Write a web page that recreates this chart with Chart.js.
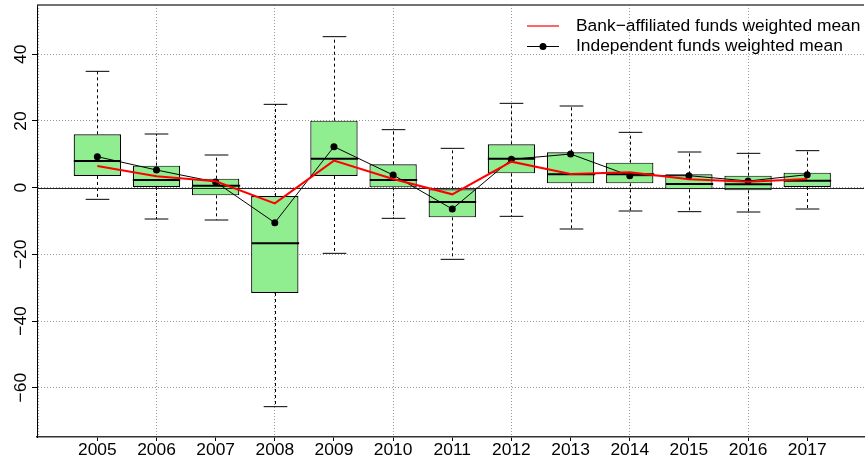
<!DOCTYPE html>
<html>
<head>
<meta charset="utf-8">
<script src="https://cdn.jsdelivr.net/npm/chart.js@4"></script>
<style>
  html, body { margin: 0; padding: 0; background: #fff; }
  #wrap { width: 868px; height: 464px; }
</style>
</head>
<body>
<div id="wrap"><canvas id="returnsChart" width="868" height="464"></canvas></div>
<script>
// yearly distribution of fund returns (%)
const years = [2005, 2006, 2007, 2008, 2009, 2010, 2011, 2012, 2013, 2014, 2015, 2016, 2017];
const whiskerLow = [-3.5, -9.4, -9.7, -65.7, -19.7, -9.2, -21.5, -8.6, -12.4, -7.0, -7.2, -7.3, -6.4];
const lowerQuartile = [3.5, 0.2, -2.3, -31.6, 3.5, 0.1, -8.9, 4.3, 1.3, 1.3, -0.5, -0.8, 0.2];
const median = [8.0, 2.3, 0.6, -16.7, 8.7, 2.3, -4.3, 8.7, 4.0, 4.0, 1.1, 1.0, 2.1];
const upperQuartile = [16.0, 6.6, 2.7, -2.5, 20.1, 7.0, -0.5, 13.0, 10.6, 7.5, 4.0, 3.6, 4.5];
const whiskerHigh = [34.9, 16.1, 9.8, 25.0, 45.3, 17.4, 11.8, 25.3, 24.5, 16.6, 10.7, 10.3, 11.1];

// weighted means
const bankMean = [6.5, 3.4, 1.9, -4.7, 8.1, 2.6, -2.0, 7.8, 4.1, 4.6, 2.5, 1.8, 2.6];
const independentMean = [9.3, 5.3, 1.7, -10.5, 12.3, 3.8, -6.4, 8.5, 10.1, 3.6, 3.6, 2.0, 3.9];

const yTicks = [-60, -40, -20, 0, 20, 40];
const xTicks = [2004].concat(years);

const seriesNames = ['Bank\u2212affiliated funds weighted mean', 'Independent funds weighted mean'];

Chart.defaults.font.family = '"Liberation Sans", Arial, Helvetica, sans-serif';
Chart.defaults.font.size = 17.4;
Chart.defaults.color = '#000';

function strokeLine(ctx, x1, y1, x2, y2) {
  ctx.beginPath();
  ctx.moveTo(x1, y1);
  ctx.lineTo(x2, y2);
  ctx.stroke();
}

// whiskers, staples, medians and the zero line, drawn right after the boxes
const boxParts = {
  id: 'boxParts',
  afterDatasetDraw(chart, args) {
    if (args.meta.type !== 'bar') return;
    const {ctx, chartArea, scales: {x, y}} = chart;
    const bars = args.meta.data;
    ctx.save();
    ctx.strokeStyle = '#000';
    years.forEach((yr, i) => {
      const px = Math.round(x.getPixelForValue(yr)) + 0.5;
      const half = bars[i].width / 2;
      const hi = y.getPixelForValue(whiskerHigh[i]);
      const lo = y.getPixelForValue(whiskerLow[i]);
      ctx.lineWidth = 1;
      ctx.setLineDash([3, 3]);
      strokeLine(ctx, px, y.getPixelForValue(upperQuartile[i]), px, hi);
      strokeLine(ctx, px, y.getPixelForValue(lowerQuartile[i]), px, lo);
      ctx.setLineDash([]);
      strokeLine(ctx, px - half / 2, hi, px + half / 2, hi);
      strokeLine(ctx, px - half / 2, lo, px + half / 2, lo);
      ctx.lineWidth = 2;
      const m = y.getPixelForValue(median[i]);
      strokeLine(ctx, px - half, m, px + half, m);
    });
    // horizontal reference at zero
    ctx.lineWidth = 1;
    ctx.strokeStyle = '#222';
    const zero = Math.round(y.getPixelForValue(0)) + 0.5;
    strokeLine(ctx, chartArea.left, zero, chartArea.right, zero);
    ctx.restore();
  }
};

// top frame line and the legend
const frameAndLegend = {
  id: 'frameAndLegend',
  afterDraw(chart) {
    const {ctx, chartArea} = chart;
    ctx.save();
    ctx.strokeStyle = '#444';
    ctx.lineWidth = 1.5;
    strokeLine(ctx, chartArea.left, chartArea.top, chartArea.right, chartArea.top);

    const x0 = 527, x1 = 559, tx = 576;
    const rows = [26, 46.5];
    ctx.lineWidth = 1.2;
    ctx.strokeStyle = '#ff0000';
    strokeLine(ctx, x0, rows[0], x1, rows[0]);
    ctx.lineWidth = 1;
    ctx.strokeStyle = '#000';
    strokeLine(ctx, x0, rows[1], x1, rows[1]);
    ctx.fillStyle = '#000';
    ctx.beginPath();
    ctx.arc((x0 + x1) / 2, rows[1], 3.5, 0, Math.PI * 2);
    ctx.fill();

    ctx.font = '17.4px "Liberation Sans", Arial, sans-serif';
    ctx.textBaseline = 'middle';
    ctx.textAlign = 'left';
    ctx.fillText(seriesNames[0], tx, rows[0]);
    ctx.fillText(seriesNames[1], tx, rows[1]);
    ctx.restore();
  }
};

new Chart(document.getElementById('returnsChart'), {
  type: 'line',
  data: {
    datasets: [
      {
        label: seriesNames[0],
        data: years.map((yr, i) => ({x: yr, y: bankMean[i]})),
        borderColor: '#ff0000',
        borderWidth: 2,
        pointRadius: 0,
        order: 0
      },
      {
        label: seriesNames[1],
        data: years.map((yr, i) => ({x: yr, y: independentMean[i]})),
        borderColor: '#000',
        borderWidth: 1,
        pointRadius: 3.5,
        pointBackgroundColor: '#000',
        pointBorderWidth: 0,
        order: 1
      },
      {
        type: 'bar',
        label: 'boxes',
        data: years.map((yr, i) => ({x: yr, y: [lowerQuartile[i], upperQuartile[i]]})),
        backgroundColor: '#90ee90',
        borderColor: '#000',
        borderWidth: 1.2,
        borderSkipped: false,
        barPercentage: 0.8,
        categoryPercentage: 1,
        order: 2
      }
    ]
  },
  options: {
    responsive: false,
    animation: false,
    layout: {padding: {top: 5, right: 0, left: 0, bottom: 0}},
    plugins: {legend: {display: false}, tooltip: {enabled: false}},
    scales: {
      x: {
        type: 'linear',
        min: 2003.98,
        max: 2017.96,
        offset: false,
        afterBuildTicks: (scale) => { scale.ticks = xTicks.map(v => ({value: v})); },
        afterFit: (scale) => { scale.height = 27; scale.paddingLeft = 0; scale.paddingRight = 0; },
        ticks: {
          autoSkip: false,
          maxRotation: 0,
          padding: -1,
          callback: (v) => years.includes(v) ? String(v) : ''
        },
        grid: {
          offset: false,
          tickLength: 4,
          color: (c) => (c.tick && c.tick.value % 2 === 0) ? '#999' : 'rgba(0,0,0,0)',
          tickColor: (c) => (c.tick && years.includes(c.tick.value)) ? '#000' : 'rgba(0,0,0,0)'
        },
        border: {color: '#333', width: 1.5, dash: [1, 2]}
      },
      y: {
        min: -74.8,
        max: 54.8,
        afterBuildTicks: (scale) => { scale.ticks = yTicks.map(v => ({value: v})); },
        afterFit: (scale) => { scale.width = 37; scale.paddingTop = 0; scale.paddingBottom = 0; },
        ticks: {
          minRotation: 90,
          maxRotation: 90,
          crossAlign: 'center',
          padding: -4,
          callback: (v) => v < 0 ? '\u2212' + Math.abs(v) : String(v)
        },
        grid: {
          tickLength: 5,
          color: '#999',
          tickColor: '#000'
        },
        border: {color: '#000', width: 1, dash: [1, 2]}
      }
    }
  },
  plugins: [boxParts, frameAndLegend]
});
</script>
</body>
</html>
